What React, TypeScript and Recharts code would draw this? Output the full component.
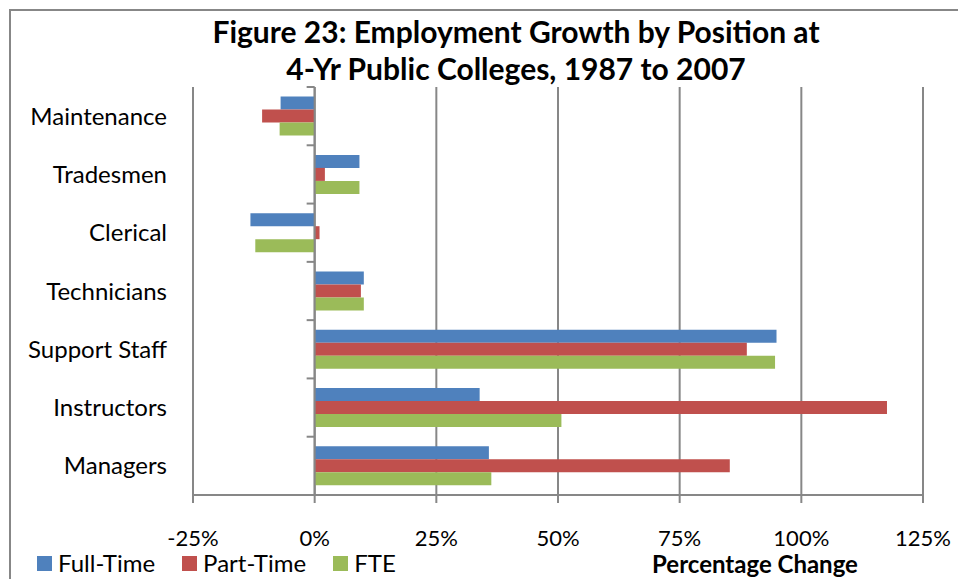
import React from 'react';
import { BarChart, Bar, XAxis, YAxis, CartesianGrid, ReferenceLine, Legend } from 'recharts';

const categories = ['Maintenance', 'Tradesmen', 'Clerical', 'Technicians', 'Support Staff', 'Instructors', 'Managers'];
const fullTime = [-7.0, 9.2, -13.2, 10.1, 94.9, 33.9, 35.8];
const partTime = [-10.8, 2.1, 1.0, 9.5, 88.8, 117.6, 85.3];
const fte = [-7.2, 9.2, -12.2, 10.1, 94.6, 50.7, 36.3];
const xTicks = [-25, 0, 25, 50, 75, 100, 125];
const seriesNames = ['Full-Time', 'Part-Time', 'FTE'];
const seriesColors = ['#4F81BD', '#C0504D', '#9BBB59'];
const titleLines = ['Figure 23: Employment Growth by Position at', '4-Yr Public Colleges, 1987 to 2007'];
const axisTitle = 'Percentage Change';

const data = categories.map((name, i) => ({ name, ft: fullTime[i], pt: partTime[i], fte: fte[i] }));
const seriesKeys = ['ft', 'pt', 'fte'];

const FONT = 'Lato, "Noto Sans", sans-serif';
const GRID = '#878787';

const renderLegend = () => {
  return (
    <div style={{ display: 'flex', alignItems: 'center', fontFamily: FONT, fontSize: 24, lineHeight: '26px', color: '#000' }}>
      {seriesNames.map((n, i) => (
        <div key={n} style={{ display: 'flex', alignItems: 'center', marginRight: 27 }}>
          <div style={{ width: 15, height: 15, background: seriesColors[i], marginRight: 6 }} />
          <span>{n}</span>
        </div>
      ))}
    </div>
  );
};

export default function App() {
  return (
    <div style={{ position: 'absolute', left: 0, top: 0, width: 958, height: 579, overflow: 'hidden', background: '#fff', fontFamily: FONT }}>
      <div style={{ position: 'absolute', left: 9, top: 9, width: 1200, height: 1200, borderLeft: `2px solid ${GRID}`, borderTop: `2px solid ${GRID}` }} />
      <div style={{ position: 'absolute', left: 0, top: 13, width: 1032, textAlign: 'center', fontWeight: 'bold', fontSize: 30, lineHeight: '37px', color: '#000' }}>
        {titleLines.map((t, i) => (<div key={i}>{t}</div>))}
      </div>
      <div style={{ position: 'absolute', left: 0, top: 0 }}>
        <BarChart
          width={958}
          height={579}
          data={data}
          layout="vertical"
          margin={{ top: 87, right: 35, bottom: 44, left: 13 }}
          barCategoryGap="16.5%"
          barGap={0}
        >
          <CartesianGrid horizontal={false} vertical={true} stroke={GRID} strokeWidth={2} />
          <XAxis
            type="number"
            domain={[-25, 125]}
            ticks={xTicks}
            interval={0}
            height={40}
            tickFormatter={(v: number) => `${v}%`}
            axisLine={{ stroke: GRID, strokeWidth: 2 }}
            tickLine={{ stroke: GRID, strokeWidth: 2 }}
            tickSize={8}
            tickMargin={27}
            tick={{ fill: '#000', fontSize: 22, fontFamily: FONT }}
            label={{ value: axisTitle, position: 'bottom', dx: 197, dy: 16, style: { fill: '#000', fontSize: 24, fontWeight: 'bold', fontFamily: FONT } }}
          />
          <YAxis
            type="category"
            dataKey="name"
            width={180}
            axisLine={false}
            tickLine={false}
            tickSize={6}
            tickMargin={20}
            interval={0}
            tick={{ fill: '#000', fontSize: 24, fontFamily: FONT }}
          />
          {seriesKeys.map((k, i) => (
            <Bar key={k} dataKey={k} name={seriesNames[i]} fill={seriesColors[i]} isAnimationActive={false} />
          ))}
          <ReferenceLine x={0} stroke={GRID} strokeWidth={2} />
          {categories.map((c) => (
            <ReferenceLine key={'t' + c} segment={[{ x: -1.65, y: c }, { x: 0, y: c }]} position="start" stroke={GRID} strokeWidth={2} />
          ))}
          <ReferenceLine segment={[{ x: -1.65, y: categories[categories.length - 1] }, { x: 0, y: categories[categories.length - 1] }]} position="end" stroke={GRID} strokeWidth={2} />
          <Legend
            layout="horizontal"
            verticalAlign="middle"
            align="center"
            content={renderLegend}
            wrapperStyle={{ left: 37, top: 550, width: 500, height: 26 }}
          />
        </BarChart>
      </div>
    </div>
  );
}
